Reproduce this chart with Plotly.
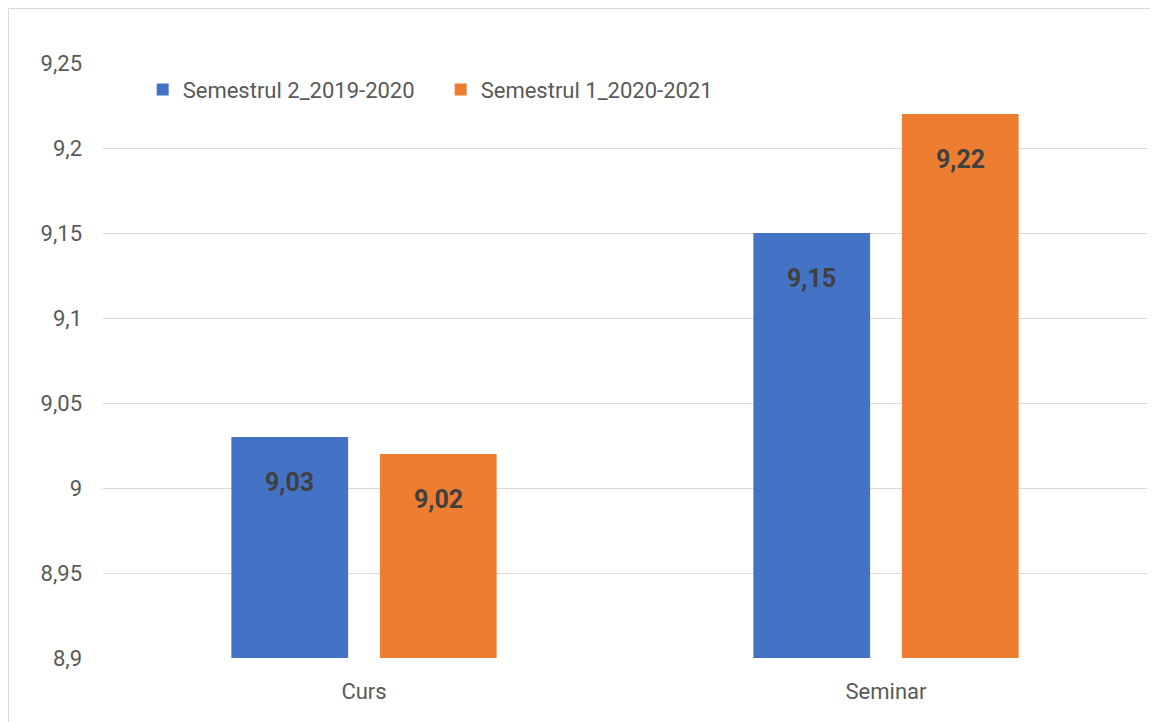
import plotly.graph_objects as go

categories = ["Curs", "Seminar"]
series_names = ["Semestrul 2_2019-2020", "Semestrul 1_2020-2021"]
sem2_2019_2020 = [9.03, 9.15]
sem1_2020_2021 = [9.02, 9.22]
series_values = [sem2_2019_2020, sem1_2020_2021]
series_colors = ["#4472C4", "#ED7D31"]
y_tickvals = [8.9, 8.95, 9.0, 9.05, 9.1, 9.15, 9.2, 9.25]
y_ticktext = ["8,9", "8,95", "9", "9,05", "9,1", "9,15", "9,2", "9,25"]

# page body adds an 8px offset
W, H = 1150, 714
ML, MR, MT, MB = 95, 11, 55, 64
BARGAP = 0.431
BARGROUPGAP = 0.214

fig = go.Figure()
for name, vals, col in zip(series_names, series_values, series_colors):
    fig.add_trace(go.Bar(
        x=categories, y=vals, name=name,
        marker=dict(color=col, line=dict(width=0)),
        hoverinfo="skip",
    ))

plot_w = W - ML - MR
plot_h = H - MT - MB
cat_w = plot_w / len(categories)
slot = (1 - BARGAP) * cat_w / len(series_values)
annotations = []
for si, vals in enumerate(series_values):
    offset = (si - (len(series_values) - 1) / 2) * slot
    for cat, v in zip(categories, vals):
        annotations.append(dict(
            x=cat, y=v, xref="x", yref="y",
            text=f"{v:.2f}".replace(".", ","),
            showarrow=False, xshift=offset, yshift=-45,
            font=dict(family="Roboto", size=25, color="#404040", weight="bold"),
        ))

fig.update_layout(
    width=W, height=H,
    margin=dict(l=ML, r=MR, t=MT, b=MB),
    paper_bgcolor="white", plot_bgcolor="white",
    barmode="group", bargap=BARGAP, bargroupgap=BARGROUPGAP,
    font=dict(family="Roboto", size=22, color="#595959"),
    legend=dict(
        orientation="h", x=0.038, y=0.955, xanchor="left", yanchor="middle",
        font=dict(family="Roboto", size=22, color="#595959"),
        bgcolor="rgba(0,0,0,0)", entrywidth=253, entrywidthmode="pixels",
    ),
    annotations=annotations,
    showlegend=True,
    shapes=[dict(
        type="rect", xref="paper", yref="paper",
        x0=(0.5 - ML) / plot_w, x1=(W + 5 - ML) / plot_w,
        y0=-(MB + 5) / plot_h, y1=1 + (MT - 0.5) / plot_h,
        line=dict(color="#d9d9d9", width=1), layer="below",
    )],
)
fig.update_yaxes(
    range=[8.9, 9.25], tickvals=y_tickvals, ticktext=y_ticktext,
    showgrid=True, gridcolor="#d9d9d9", gridwidth=1.3,
    zeroline=False, showline=False, ticks="", ticklabelstandoff=20,
    tickfont=dict(family="Roboto", size=22, color="#595959"),
)
fig.update_xaxes(
    showgrid=False, showline=False, ticks="", ticklabelstandoff=18,
    tickfont=dict(family="Roboto", size=22, color="#595959"),
)

fig.write_html("out.html")
